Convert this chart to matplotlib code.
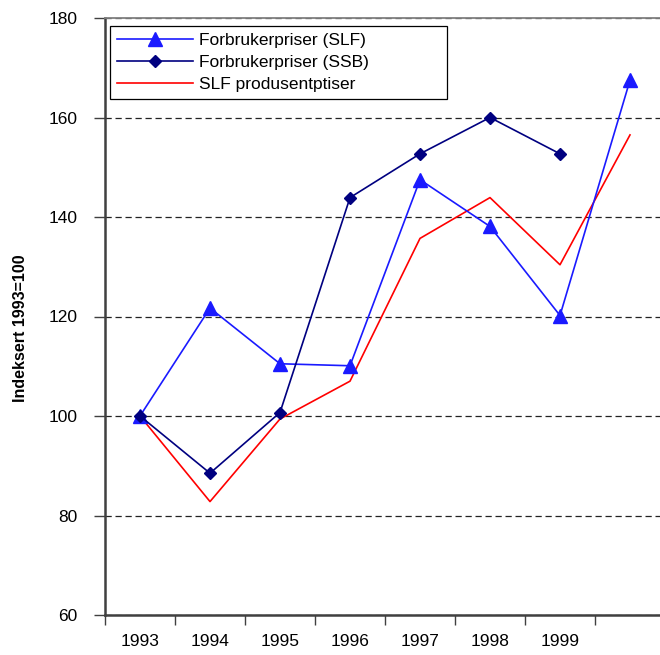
import matplotlib
matplotlib.use("Agg")
import matplotlib.pyplot as plt

plt.rcParams['font.family'] = ['Liberation Sans', 'DejaVu Sans']

years = ['1993', '1994', '1995', '1996', '1997', '1998', '1999']
slf_forbruker = [100, 121.7, 110.5, 110.1, 147.5, 138.1, 120.2, 167.5]
ssb_forbruker = [100, 88.5, 100.7, 143.9, 152.7, 160.0, 152.7]
slf_produsent = [100, 82.8, 99.4, 107.0, 135.7, 143.9, 130.4, 156.5]
yticks = [60, 80, 100, 120, 140, 160, 180]

fig = plt.figure(figsize=(6.6, 6.55), dpi=100)
ax = fig.add_axes([105/660, 40/655, 560/660, 597/655])

ax.plot(range(len(slf_forbruker)), slf_forbruker, color='#1a1aff', lw=1.2,
        marker='^', ms=10, label='Forbrukerpriser (SLF)', zorder=3)
ax.plot(range(len(ssb_forbruker)), ssb_forbruker, color='#000080', lw=1.2,
        marker='D', ms=6.5, label='Forbrukerpriser (SSB)', zorder=4)
ax.plot(range(len(slf_produsent)), slf_produsent, color='#ff0000', lw=1.2,
        label='SLF produsentptiser', zorder=2)

ax.set_xlim(-0.5, 7.5)
ax.set_ylim(60, 180)
ax.set_yticks(yticks)
ax.set_xticks([i - 0.5 for i in range(len(years) + 1)])
ax.set_xticklabels([])
ax.set_xticks(range(len(years)), minor=True)
ax.set_xticklabels(years, minor=True)
ax.tick_params(axis='x', which='major', length=7, width=1, color='#404040', direction='out')
ax.tick_params(axis='x', which='minor', length=0, pad=14, labelsize=12.5)
ax.tick_params(axis='y', length=8, width=1, color='#404040', direction='out', pad=12, labelsize=12.5)

ax.grid(axis='y', color='#222222', linestyle=(0, (5, 3)), lw=0.9)
ax.set_axisbelow(True)

for s in ['left', 'bottom']:
    ax.spines[s].set_color('#404040')
    ax.spines[s].set_linewidth(1.8)
ax.spines['top'].set_color('#808080')
ax.spines['top'].set_linewidth(1.3)
ax.spines['right'].set_visible(False)

ax.set_ylabel('Indeksert 1993=100', fontsize=11.5, fontweight='bold')
ax.yaxis.set_label_coords(-0.1375, 0.48)

leg = ax.legend(loc='upper left', bbox_to_anchor=(0.009, 0.8576, 0.602, 0.129),
                mode='expand', borderaxespad=0, fontsize=12.5, fancybox=False,
                edgecolor='black', framealpha=1, handlelength=4.4,
                handletextpad=0.3, labelspacing=0.4, borderpad=0.4)
leg.get_frame().set_linewidth(0.9)

fig.savefig('out.png', dpi=100)
